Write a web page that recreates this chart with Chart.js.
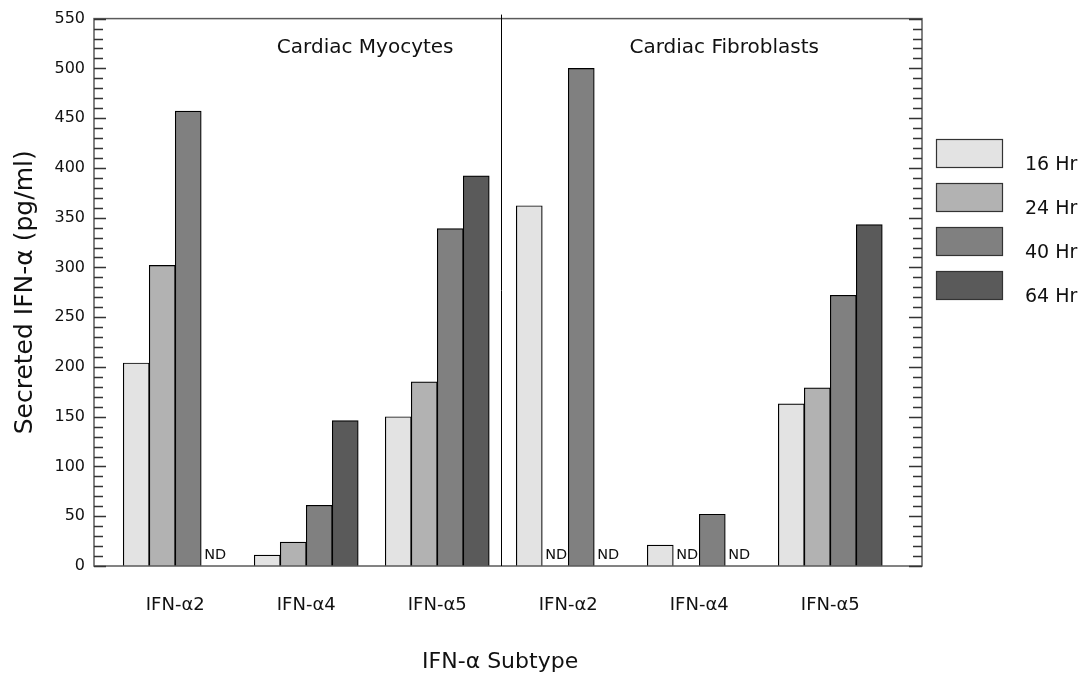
<!DOCTYPE html>
<html>
<head>
<meta charset="utf-8">
<script src="https://cdn.jsdelivr.net/npm/chart.js@4"></script>
<style>
  html, body { margin: 0; background: #fff; }
</style>
</head>
<body>
<canvas id="ifnChart" width="1089" height="677"></canvas>
<script>
/* Secreted IFN-alpha subtypes, cardiac myocytes vs fibroblasts */
const subtypes = ['IFN-α2', 'IFN-α4', 'IFN-α5', 'IFN-α2', 'IFN-α4', 'IFN-α5'];
const panels = ['Cardiac Myocytes', 'Cardiac Fibroblasts'];
const timepoints = ['16 Hr', '24 Hr', '40 Hr', '64 Hr'];
// null = ND (not detected)
const hr16 = [204, 11, 150, 362, 21, 163];
const hr24 = [302, 24, 185, null, null, 179];
const hr40 = [457, 61, 339, 500, 52, 272];
const hr64 = [null, 146, 392, null, null, 343];
const yTicks = [0, 50, 100, 150, 200, 250, 300, 350, 400, 450, 500, 550];
const shades = ['#e3e3e3', '#b2b2b2', '#808080', '#5a5a5a'];

const FONT = '"DejaVu Sans", sans-serif';
const INK = '#111';

const decor = {
    id: 'decor',
    afterDatasetsDraw(chart) {
        const { ctx, chartArea: a, scales: { x, y } } = chart;
        ctx.save();

        // frame
        ctx.strokeStyle = '#5a5a5a';
        ctx.lineWidth = 1.5;
        ctx.strokeRect(a.left, a.top, a.right - a.left, a.bottom - a.top);

        // inward ticks on both sides, minor every 10
        ctx.strokeStyle = '#333';
        ctx.lineWidth = 1.5;
        for (let v = 0; v <= 550; v += 10) {
            const py = Math.round(y.getPixelForValue(v)) + 0.5;
            const major = yTicks.includes(v);
            ctx.beginPath();
            ctx.moveTo(a.left, py); ctx.lineTo(a.left + (major ? 12 : 9), py);
            ctx.moveTo(a.right, py); ctx.lineTo(a.right - (major ? 13 : 9), py);
            ctx.stroke();
        }

        // panel divider
        const dx = Math.round(x.getPixelForValue(2.49)) + 0.5;
        ctx.strokeStyle = '#000';
        ctx.lineWidth = 1;
        ctx.beginPath();
        ctx.moveTo(dx, a.top - 4); ctx.lineTo(dx, a.bottom);
        ctx.stroke();

        // panel names
        ctx.fillStyle = INK;
        ctx.font = '20px ' + FONT;
        ctx.textAlign = 'center';
        ctx.textBaseline = 'middle';
        ctx.fillText(panels[0], x.getPixelForValue(1.45), a.top + 29);
        ctx.fillText(panels[1], x.getPixelForValue(4.19), a.top + 29);

        // x title, sits a little left of the plot centre
        ctx.font = '22px ' + FONT;
        ctx.fillText('IFN-α Subtype', x.getPixelForValue(2.48), 662);

        // ND markers for missing bars
        ctx.font = '14.5px ' + FONT;
        ctx.textBaseline = 'alphabetic';
        const base = y.getPixelForValue(0);
        chart.data.datasets.forEach((ds, k) => {
            const meta = chart.getDatasetMeta(k);
            ds.data.forEach((p, i) => {
                if (p.y === null) ctx.fillText('ND', meta.data[i].x + 1, base - 7);
            });
        });

        // legend
        ctx.textAlign = 'left';
        ctx.font = '19px ' + FONT;
        chart.data.datasets.forEach((ds, k) => {
            const bx = a.right + 14, by = 139 + k * 44;
            ctx.fillStyle = ds.backgroundColor;
            ctx.fillRect(bx, by, 67, 29);
            ctx.strokeStyle = '#333';
            ctx.lineWidth = 1.2;
            ctx.strokeRect(bx + 0.5, by + 0.5, 66, 28);
            ctx.fillStyle = INK;
            ctx.fillText(ds.label, bx + 89, by + 30.5);
        });

        ctx.restore();
    }
};

new Chart(document.getElementById('ifnChart'), {
    type: 'bar',
    data: {
        datasets: [hr16, hr24, hr40, hr64].map((vals, k) => ({
            label: timepoints[k],
            data: vals.map((v, i) => ({ x: i, y: v })),
            backgroundColor: shades[k],
            borderColor: '#000',
            borderWidth: 1.2,
            barThickness: 26
        }))
    },
    options: {
        responsive: false,
        animation: false,
        layout: { padding: { top: 15, right: 167, left: 0, bottom: 0 } },
        plugins: { legend: { display: false }, tooltip: { enabled: false } },
        scales: {
            x: {
                type: 'linear',
                min: -0.62,
                max: 5.70,
                offset: false,
                grid: { display: false, drawTicks: false },
                border: { display: false },
                afterBuildTicks: s => { s.ticks = subtypes.map((_, i) => ({ value: i })); },
                afterFit: s => { s.height = 111; },
                ticks: {
                    autoSkip: false, maxRotation: 0, padding: 29, color: INK,
                    font: { family: FONT, size: 18 },
                    callback: v => subtypes[v] ?? ''
                }
            },
            y: {
                min: 0,
                max: 550,
                grid: { display: false, drawTicks: false },
                border: { display: false },
                afterBuildTicks: s => { s.ticks = yTicks.map(v => ({ value: v })); },
                afterFit: s => { s.width = 94; },
                ticks: { padding: 9, color: INK, font: { family: FONT, size: 16 } },
                title: {
                    display: true, text: 'Secreted IFN-α (pg/ml)', color: INK,
                    font: { family: FONT, size: 25 }, padding: { top: 10 }
                }
            }
        }
    },
    plugins: [decor]
});
</script>
</body>
</html>
